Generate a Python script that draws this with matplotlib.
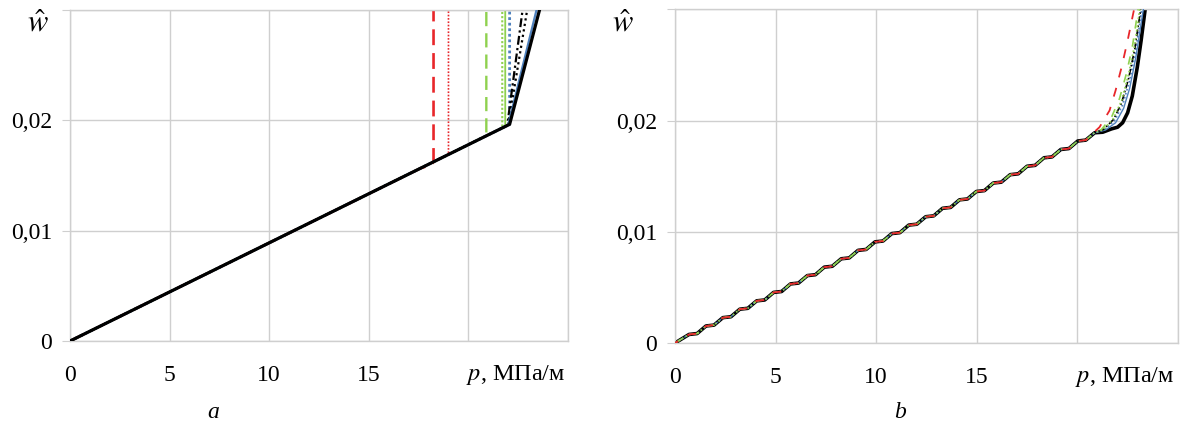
import numpy as np
import matplotlib
matplotlib.use('Agg')
import matplotlib.pyplot as plt

plt.rcParams['font.family'] = ['Liberation Serif', 'DejaVu Serif']
plt.rcParams['mathtext.fontset'] = 'stix'

# Panel a: straight loading path, break point, then either a vertical jump or a steep branch
a_red_dash_p = [0, 17.6, 18.15, 18.25, 18.25]
a_red_dash_w = [0, 0.01566, 0.01598, 0.01624, 0.030]
a_red_dot_p = [0, 19.0, 19.0]
a_red_dot_w = [0, 0.01691, 0.030]
a_green_dash_p = [0, 20.9, 20.9]
a_green_dash_w = [0, 0.0186, 0.030]
a_green_dot_p = [0, 21.7, 21.7]
a_green_dot_w = [0, 0.01931, 0.030]
a_green_p = [0, 21.85, 21.85]
a_green_w = [0, 0.01945, 0.030]
a_blue_dot_p = [0, 22.07, 22.07]
a_blue_dot_w = [0, 0.01964, 0.030]
a_dashdot_p = [0, 21.95, 22.72]
a_dashdot_w = [0, 0.01954, 0.030]
a_black_dot_p = [0, 22.0, 22.95]
a_black_dot_w = [0, 0.01958, 0.030]
a_blue_p = [0, 22.0, 23.42]
a_blue_w = [0, 0.01958, 0.030]
a_black_p = [0, 22.07, 23.57]
a_black_w = [0, 0.01964, 0.030]

# Panel b: common wavy loading path (read as plateau start / end points)
b_path_p = [0, 0.70, 1.10, 1.54, 1.94, 2.38, 2.78, 3.22, 3.62, 4.06, 4.46,
            4.90, 5.30, 5.74, 6.14, 6.58, 6.98, 7.42, 7.82, 8.26, 8.66,
            9.10, 9.50, 9.94, 10.34, 10.78, 11.18, 11.62, 12.02, 12.46, 12.86,
            13.30, 13.70, 14.14, 14.54, 14.98, 15.38, 15.82, 16.22, 16.66, 17.06,
            17.50, 17.90, 18.34, 18.74, 19.18, 19.58, 20.02, 20.42]
b_path_w = [0, 0.00077, 0.00085, 0.00153, 0.00161, 0.00228, 0.00236, 0.00304, 0.00312,
            0.00379, 0.00387, 0.00455, 0.00463, 0.00531, 0.00539, 0.00606, 0.00614,
            0.00682, 0.00690, 0.00757, 0.00765, 0.00833, 0.00841, 0.00909, 0.00917,
            0.00984, 0.00992, 0.01060, 0.01068, 0.01135, 0.01143, 0.01211, 0.01219,
            0.01287, 0.01295, 0.01362, 0.01370, 0.01438, 0.01446, 0.01513, 0.01521,
            0.01589, 0.01597, 0.01665, 0.01673, 0.01740, 0.01748, 0.01816, 0.01824]

# Panel b: branches after the loading path
b_black_tail_p = [20.86, 21.26, 21.7, 22.0, 22.25, 22.5, 22.73, 22.98, 23.17, 23.37]
b_black_tail_w = [0.0189, 0.01895, 0.01925, 0.01940, 0.0198, 0.0207, 0.0222, 0.0248, 0.0272, 0.0300]
b_red_tail_p = [20.80, 21.1, 21.6, 21.9, 22.2, 22.5, 22.82]
b_red_tail_w = [0.0189, 0.0194, 0.0209, 0.0227, 0.0248, 0.0272, 0.0300]
b_green_dash_tail_p = [20.85, 21.2, 21.7, 22.1, 22.45, 22.75, 23.02]
b_green_dash_tail_w = [0.0189, 0.0192, 0.0203, 0.0220, 0.0243, 0.0268, 0.0300]
b_green_dot_tail_p = [20.85, 21.3, 21.8, 22.2, 22.55, 22.85, 23.1]
b_green_dot_tail_w = [0.0189, 0.0192, 0.0202, 0.0218, 0.0242, 0.0268, 0.0300]
b_dashdot_tail_p = [20.86, 21.3, 21.8, 22.2, 22.55, 22.85, 23.15]
b_dashdot_tail_w = [0.0189, 0.0192, 0.0201, 0.0216, 0.0238, 0.0264, 0.0300]
b_blue_dot_tail_p = [20.86, 21.35, 21.85, 22.25, 22.6, 22.9, 23.2]
b_blue_dot_tail_w = [0.0189, 0.0192, 0.0200, 0.0214, 0.0236, 0.0262, 0.0300]
b_blue_tail_p = [20.86, 21.4, 21.9, 22.3, 22.6, 22.9, 23.28]
b_blue_tail_w = [0.0189, 0.01915, 0.0198, 0.0211, 0.0229, 0.0256, 0.0300]

x_ticks = [0, 5, 10, 15, 20, 25]
x_tick_labels = ['0', '5', '10', '15', '', '']
y_ticks = [0, 0.01, 0.02, 0.03]
y_tick_labels = ['0', '0,01', '0,02', '']

RED = '#e8262a'
GREEN = '#8fd14f'
BLUE = '#4f81bd'
GRID = '#cfcfcf'


def style_axes(ax):
    ax.set_xlim(0, 25)
    ax.set_ylim(0, 0.03)
    ax.set_xticks(x_ticks)
    ax.set_xticklabels(x_tick_labels)
    ax.set_yticks(y_ticks)
    ax.set_yticklabels(y_tick_labels)
    ax.grid(True, color=GRID, lw=1.0)
    ax.set_axisbelow(True)
    for s in ax.spines.values():
        s.set_color(GRID)
        s.set_linewidth(1.0)
    ax.tick_params(axis='y', length=6, color=GRID, pad=7, labelsize=17)
    ax.tick_params(axis='x', length=0, pad=17, labelsize=17)
    ax.text(0.994, -0.103, r'$p$, МПа/м', transform=ax.transAxes,
            ha='right', va='center', fontsize=17.5)


fig = plt.figure(figsize=(11.89, 4.32), dpi=100)
ax_a = fig.add_axes([0.0589, 0.2106, 0.4188, 0.7662])
ax_b = fig.add_axes([0.5677, 0.2060, 0.4230, 0.7725])

# panel a: coloured branches under the thick black curve
ax_a.plot(a_red_dash_p, a_red_dash_w, color=RED, lw=1.9, ls=(0, (6, 3)), zorder=2)
ax_a.plot(a_red_dot_p, a_red_dot_w, color=RED, lw=1.2, ls=(0, (1, 1)), zorder=2)
ax_a.plot(a_green_dash_p, a_green_dash_w, color=GREEN, lw=1.7, ls=(0, (6, 3)), zorder=2)
ax_a.plot(a_green_dot_p, a_green_dot_w, color=GREEN, lw=1.5, ls=(0, (1, 1)), zorder=2)
ax_a.plot(a_green_p, a_green_w, color=GREEN, lw=1.3, zorder=2)
ax_a.plot(a_blue_dot_p, a_blue_dot_w, color=BLUE, lw=2.0, ls=(0, (1, 1)), zorder=2)
ax_a.plot(a_dashdot_p, a_dashdot_w, color='black', lw=1.6, ls=(0, (4, 1.5, 1, 1.5)), zorder=3)
ax_a.plot(a_black_dot_p, a_black_dot_w, color='black', lw=1.6, ls=(0, (1, 1.5)), zorder=3)
ax_a.plot(a_blue_p, a_blue_w, color=BLUE, lw=1.6, zorder=3)
ax_a.plot(a_black_p, a_black_w, color='black', lw=2.3, zorder=4)
style_axes(ax_a)

# panel b: thick black underneath, thin coloured curves on top
ax_b.plot(b_path_p + b_black_tail_p, b_path_w + b_black_tail_w, color='black', lw=2.6, zorder=2)
ax_b.plot(b_path_p + b_blue_tail_p, b_path_w + b_blue_tail_w, color=BLUE, lw=1.0, zorder=3)
ax_b.plot(b_path_p + b_blue_dot_tail_p, b_path_w + b_blue_dot_tail_w, color=BLUE, lw=1.2,
          ls=(0, (1, 1.5)), zorder=3)
ax_b.plot(b_path_p + b_dashdot_tail_p, b_path_w + b_dashdot_tail_w, color='black', lw=1.2,
          ls=(0, (4, 1.5, 1, 1.5)), zorder=3)
ax_b.plot(b_path_p + b_green_dot_tail_p, b_path_w + b_green_dot_tail_w, color=GREEN, lw=1.2,
          ls=(0, (1, 1.5)), zorder=3)
ax_b.plot(b_path_p + b_green_dash_tail_p, b_path_w + b_green_dash_tail_w, color=GREEN, lw=1.2,
          ls=(0, (5, 6)), zorder=3)
ax_b.plot(b_path_p + b_red_tail_p, b_path_w + b_red_tail_w, color=RED, lw=1.3,
          ls=(3, (5, 6)), zorder=3)
style_axes(ax_b)

fig.text(38 / 1189, 1 - 24 / 432, r'$\hat{w}$', fontsize=22, ha='center', va='center')
fig.text(623 / 1189, 1 - 24 / 432, r'$\hat{w}$', fontsize=22, ha='center', va='center')
fig.text(213 / 1189, 1 - 412 / 432, 'a', style='italic', fontsize=17, ha='center', va='center')
fig.text(900 / 1189, 1 - 412 / 432, 'b', style='italic', fontsize=17, ha='center', va='center')

fig.savefig('out.png', dpi=100)
